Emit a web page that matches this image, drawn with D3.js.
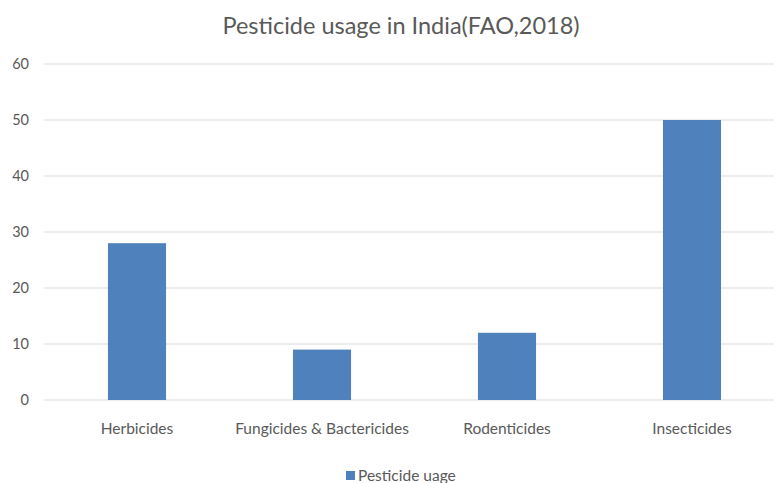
<!DOCTYPE html>
<html>
<head>
<meta charset="utf-8">
<script src="https://cdn.jsdelivr.net/npm/d3@7"></script>
<style>
  body { margin: 0; background: #fff; }
  text { font-family: Lato, "Open Sans", sans-serif; fill: #595959; }
</style>
</head>
<body>
<div id="chart"></div>
<script>
const categories = ['Herbicides', 'Fungicides & Bactericides', 'Rodenticides', 'Insecticides'];
const usage = [28, 9, 12, 50];
const yTicks = [0, 10, 20, 30, 40, 50, 60];
const seriesName = 'Pesticide uage';
const title = 'Pesticide usage in India(FAO,2018)';

const width = 774, height = 483;
const svg = d3.select('#chart').append('svg')
  .attr('width', width)
  .attr('height', height);

// plot area runs off the right edge, like the cropped original
const x = d3.scaleBand()
  .domain(categories)
  .range([44.5, 784.5])
  .paddingInner(0.686)
  .paddingOuter(0.343);

const y = d3.scaleLinear()
  .domain([0, 60])
  .range([400, 64]);

svg.append('text')
  .attr('x', 401)
  .attr('y', 34)
  .attr('text-anchor', 'middle')
  .style('font-size', '23.5px')
  .text(title);

// gridlines
svg.append('g')
  .selectAll('line')
  .data(yTicks)
  .join('line')
  .attr('x1', 44.5)
  .attr('x2', width)
  .attr('y1', d => y(d))
  .attr('y2', d => y(d))
  .attr('stroke', '#d9d9d9')
  .attr('stroke-width', 1);

// y tick labels
svg.append('g')
  .selectAll('text')
  .data(yTicks)
  .join('text')
  .attr('x', 29)
  .attr('y', d => y(d))
  .attr('dy', '0.35em')
  .attr('text-anchor', 'end')
  .style('font-size', '14.5px')
  .text(d => d);

// bars
svg.append('g')
  .selectAll('rect')
  .data(usage)
  .join('rect')
  .attr('x', (d, i) => x(categories[i]))
  .attr('y', d => y(d))
  .attr('width', x.bandwidth())
  .attr('height', d => y(0) - y(d))
  .attr('fill', '#4f81bd');

// category labels
svg.append('g')
  .selectAll('text')
  .data(categories)
  .join('text')
  .attr('x', d => x(d) + x.bandwidth() / 2)
  .attr('y', 434)
  .attr('text-anchor', 'middle')
  .style('font-size', '15.5px')
  .text(d => d);

// legend
const legend = svg.append('g');
legend.append('rect')
  .attr('x', 346)
  .attr('y', 471)
  .attr('width', 9)
  .attr('height', 9)
  .attr('fill', '#4f81bd');
legend.append('text')
  .attr('x', 358)
  .attr('y', 481)
  .style('font-size', '15.5px')
  .text(seriesName);
</script>
</body>
</html>
